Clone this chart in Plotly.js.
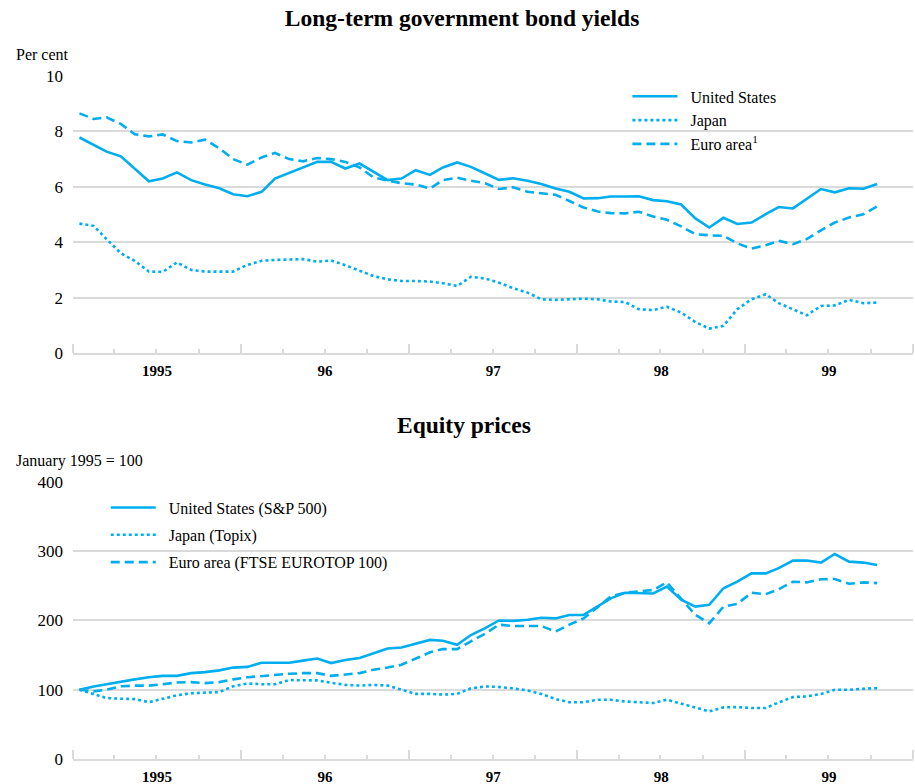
<!DOCTYPE html>
<html>
<head>
<meta charset="utf-8">
<script src="https://cdn.plot.ly/plotly-3.0.1.min.js"></script>
<style>html,body{margin:0;padding:0;background:#fff;}#chart{width:915px;height:784px;}</style>
</head>
<body>
<div id="chart"></div>
<script>
const months = [
 '1995-01-15','1995-02-15','1995-03-15','1995-04-15','1995-05-15','1995-06-15','1995-07-15','1995-08-15','1995-09-15','1995-10-15','1995-11-15','1995-12-15',
 '1996-01-15','1996-02-15','1996-03-15','1996-04-15','1996-05-15','1996-06-15','1996-07-15','1996-08-15','1996-09-15','1996-10-15','1996-11-15','1996-12-15',
 '1997-01-15','1997-02-15','1997-03-15','1997-04-15','1997-05-15','1997-06-15','1997-07-15','1997-08-15','1997-09-15','1997-10-15','1997-11-15','1997-12-15',
 '1998-01-15','1998-02-15','1998-03-15','1998-04-15','1998-05-15','1998-06-15','1998-07-15','1998-08-15','1998-09-15','1998-10-15','1998-11-15','1998-12-15',
 '1999-01-15','1999-02-15','1999-03-15','1999-04-15','1999-05-15','1999-06-15','1999-07-15','1999-08-15','1999-09-15','1999-10-15'
];

// Long-term government bond yields (per cent)
const usYield = [7.78,7.52,7.27,7.10,6.66,6.20,6.30,6.52,6.24,6.08,5.95,5.73,
 5.66,5.82,6.30,6.51,6.70,6.90,6.90,6.66,6.84,6.54,6.24,6.30,
 6.60,6.43,6.70,6.88,6.72,6.48,6.25,6.31,6.22,6.10,5.94,5.82,
 5.58,5.59,5.65,5.65,5.66,5.52,5.48,5.36,4.86,4.53,4.88,4.66,
 4.71,5.01,5.27,5.22,5.58,5.92,5.80,5.95,5.93,6.10];
const jpYield = [4.67,4.59,4.11,3.60,3.33,2.94,2.93,3.27,3.00,2.94,2.94,2.94,
 3.18,3.33,3.36,3.37,3.39,3.30,3.34,3.17,2.96,2.78,2.66,2.60,
 2.60,2.58,2.52,2.42,2.75,2.69,2.54,2.34,2.18,1.94,1.92,1.94,
 1.96,1.94,1.86,1.84,1.58,1.55,1.67,1.46,1.12,0.88,0.98,1.58,
 1.94,2.12,1.80,1.58,1.36,1.70,1.72,1.92,1.80,1.82];
const euYield = [8.65,8.45,8.51,8.27,7.90,7.82,7.89,7.65,7.60,7.70,7.39,7.00,
 6.80,7.06,7.22,7.00,6.92,7.04,7.00,6.90,6.70,6.34,6.22,6.13,
 6.08,5.94,6.24,6.33,6.22,6.13,5.92,5.98,5.82,5.77,5.71,5.49,
 5.25,5.11,5.05,5.04,5.10,4.93,4.81,4.57,4.29,4.25,4.23,3.96,
 3.77,3.89,4.05,3.93,4.11,4.43,4.71,4.89,5.01,5.29];

// Equity prices (January 1995 = 100)
const usEquity = [100,104.8,108,112,115,118,120,120,124,125.5,128,132,
 133,139,139,139,142,145,138.5,143,145.7,152,159.6,161,
 166,172,170.7,165,179,189,200,199.5,201,204,203,208,
 208,220,232,240,240,239,249,230,220,222.6,246.6,256,
 268,268,275.5,286.5,286.5,283.6,296,285,283.6,280];
const jpEquity = [100,94,88,87,86.5,82,87,92,95,96,96.6,105,
 109,108,108,114,113.5,113.5,110,107,106,107,106,100,
 94,94,93,94,102,104.8,104,102,99,94,86.5,82,
 82,85.6,85.6,83,81.7,80.8,85.6,79.8,73.6,68.8,74.5,75,
 73.6,73.6,81.7,89.4,90.4,93.8,100,100,101.4,102.4];
const euEquity = [100,97.6,100,105,106,106,108,110.5,111,109.6,111,115,
 118,120,121.6,123,124,124,120,121.6,124,129,132,136,
 144.7,154,158.7,158.7,170,181,194,192,192,192,184,194,
 203,220,234.6,240,242,244,255,232,208,196,220,224,
 240,238,245,256,255,259.6,260,253,255,254];

const yieldNames = ['United States','Japan','Euro area<sup>1</sup>'];
const equityNames = ['United States (S&P 500)','Japan (Topix)','Euro area (FTSE EUROTOP 100)'];
const yieldTicks = [0,2,4,6,8,10];
const equityTicks = [0,100,200,300,400];

const COL = '#00aeef';
const GRID = '#dadada';
const FONT = 'Liberation Serif, Times New Roman, serif';
const dashes = ['solid','3px,3px','9px,5px'];
const PAD = '&nbsp;&nbsp;';

function mk(y, name, k, xa, ya, leg) {
  return {x: months, y: y, name: PAD + name, type: 'scatter', mode: 'lines',
    xaxis: xa, yaxis: ya, legend: leg, legendgroup: leg + k,
    line: {color: COL, width: 2.6, dash: dashes[k]}, hoverinfo: 'skip'};
}

const traces = [
  mk(usYield, yieldNames[0], 0, 'x', 'y', 'legend'),
  mk(jpYield, yieldNames[1], 1, 'x', 'y', 'legend'),
  mk(euYield, yieldNames[2], 2, 'x', 'y', 'legend'),
  mk(usEquity, equityNames[0], 0, 'x2', 'y2', 'legend2'),
  mk(jpEquity, equityNames[1], 1, 'x2', 'y2', 'legend2'),
  mk(euEquity, equityNames[2], 2, 'x2', 'y2', 'legend2')
];

function xax(anchor) {
  return {
    type: 'date', anchor: anchor, range: ['1995-01-01', '2000-01-01'],
    dtick: 'M12', tick0: '1995-01-01', ticklabelmode: 'period',
    tickformat: '%y', labelalias: {'95': '1995'},
    ticks: 'inside', ticklen: 9, tickwidth: 2, tickcolor: GRID,
    ticklabelstandoff: 3,
    showline: true, linecolor: GRID, linewidth: 2,
    showgrid: false, zeroline: false, fixedrange: true,
    tickfont: {family: FONT, size: 15, color: '#000', weight: 'bold'},
    minor: {dtick: 'M3', tick0: '1995-01-01', ticks: 'inside', ticklen: 4, tickwidth: 2, tickcolor: GRID, showgrid: false}
  };
}
function yax(anchor, dom, rng, vals) {
  return {
    anchor: anchor, domain: dom, range: rng, tickvals: vals,
    showgrid: true, gridcolor: GRID, gridwidth: 2, zeroline: false, showline: false,
    ticks: '', ticklabelstandoff: 9, fixedrange: true,
    tickfont: {family: FONT, size: 17, color: '#000'}
  };
}

const layout = {
  width: 915, height: 784,
  margin: {l: 73, r: 2, t: 76, b: 25},
  paper_bgcolor: '#fff', plot_bgcolor: '#fff',
  showlegend: true,
  font: {family: FONT, color: '#000'},
  title: {text: '<b>Long-term government bond yields</b>', x: 0.505, xanchor: 'center',
    y: 1 - 18/784, yanchor: 'middle', yref: 'container',
    font: {family: FONT, size: 23.5, color: '#000'}},
  xaxis: xax('y'),
  yaxis: yax('x', [0.5944, 1], [0, 10], yieldTicks),
  xaxis2: xax('y2'),
  yaxis2: yax('x2', [0, 0.4056], [0, 400], equityTicks),
  legend: {x: 0.66, xanchor: 'left', y: 0.995, yanchor: 'top', bgcolor: 'rgba(0,0,0,0)',
    traceorder: 'grouped', tracegroupgap: 0, itemwidth: 45,
    font: {family: FONT, size: 16, color: '#000'}},
  legend2: {x: 0.039, xanchor: 'left', y: 0.393, yanchor: 'top', bgcolor: 'rgba(0,0,0,0)',
    traceorder: 'grouped', tracegroupgap: 3.5, itemwidth: 45,
    font: {family: FONT, size: 16, color: '#000'}},
  annotations: [
    {text: '<b>Equity prices</b>', xref: 'paper', yref: 'paper', x: 0.465, y: (759-425)/683,
     xanchor: 'center', yanchor: 'middle', showarrow: false, font: {family: FONT, size: 23.5, color: '#000'}},
    {text: 'Per cent', xref: 'paper', yref: 'paper', x: (14-73)/840, y: (759-55)/683,
     xanchor: 'left', yanchor: 'middle', showarrow: false, font: {family: FONT, size: 16, color: '#000'}},
    {text: 'January 1995 = 100', xref: 'paper', yref: 'paper', x: (14-73)/840, y: (759-461)/683,
     xanchor: 'left', yanchor: 'middle', showarrow: false, font: {family: FONT, size: 16, color: '#000'}}
  ],
  hovermode: false
};

Plotly.newPlot('chart', traces, layout, {displayModeBar: false, staticPlot: true});
</script>
</body>
</html>
